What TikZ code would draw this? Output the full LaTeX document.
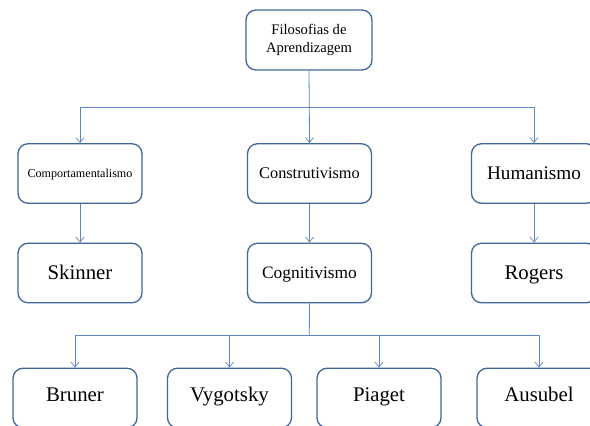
\documentclass[tikz,border=0pt]{standalone}
\usepackage{fontspec}
\setmainfont{Liberation Serif}
\usetikzlibrary{arrows.meta}
\definecolor{boxline}{HTML}{41669B}
\definecolor{conn}{HTML}{5B86C0}
\tikzset{
  box/.style={draw=boxline, line width=1.3pt, rounded corners=10pt, fill=white,
    minimum width=124pt, minimum height=59.5pt, inner sep=1pt, align=center, text=black},
  one/.style={text height=#1, text depth=0pt},
  link/.style={draw=conn, line width=0.8pt},
  arr/.style={link, -{Straight Barb[length=5pt,width=8pt,line width=0.7pt]}},
  fA/.style={font=\fontsize{20.8}{24}\selectfont, text height=13.8pt, text depth=0pt},
  low/.style={box, fA, text height=13.8pt, text depth=6pt},
}
\begin{document}
\begin{tikzpicture}[x=1pt,y=-1pt]
\useasboundingbox (0,0) rectangle (590,426);
\clip (0,0) rectangle (590,426);
\fill[white] (0,0) rectangle (590,426);
\node[box, minimum width=126pt, minimum height=60pt, font=\fontsize{14.6}{18.3}\selectfont] (top) at (309,40) {Filosofias de\\Aprendizagem};
\node[box, one=8pt, font=\fontsize{12.1}{14}\selectfont] (comp) at (80,173.5) {Comportamentalismo};
\node[box, one=10.8pt, font=\fontsize{16.3}{19}\selectfont] (cons) at (309.5,173.5) {Construtivismo};
\node[box, one=12.7pt, minimum width=125pt, font=\fontsize{19.2}{22}\selectfont] (hum) at (534,173.5) {Humanismo};
\node[box, fA] (ski) at (80,273) {Skinner};
\node[box, one=11.5pt, font=\fontsize{17.4}{20}\selectfont] (cog) at (309.5,273) {Cognitivismo};
\node[box, minimum width=125pt, fA] (rog) at (534,273) {Rogers};
\node[low] (bru) at (75,398) {Bruner};
\node[low] (vyg) at (229.5,398) {Vygotsky};
\node[low] (pia) at (379,398) {Piaget};
\node[low] (aus) at (539,398) {Ausubel};
\coordinate (b1) at (309.3,107);
\coordinate (b2) at (309.3,335);
\draw[link] (top.south) -- (b1);
\draw[arr] (b1) -| (comp.north);
\draw[arr] (b1) -- (cons.north);
\draw[arr] (b1) -| (hum.north);
\draw[arr] (comp.south) -- (ski.north);
\draw[arr] (cons.south) -- (cog.north);
\draw[arr] (hum.south) -- (rog.north);
\draw[link] (cog.south) -- (b2);
\draw[arr] (b2) -| (bru.north);
\draw[arr] (b2) -| (vyg.north);
\draw[arr] (b2) -| (pia.north);
\draw[arr] (b2) -| (aus.north);
\end{tikzpicture}
\end{document}
